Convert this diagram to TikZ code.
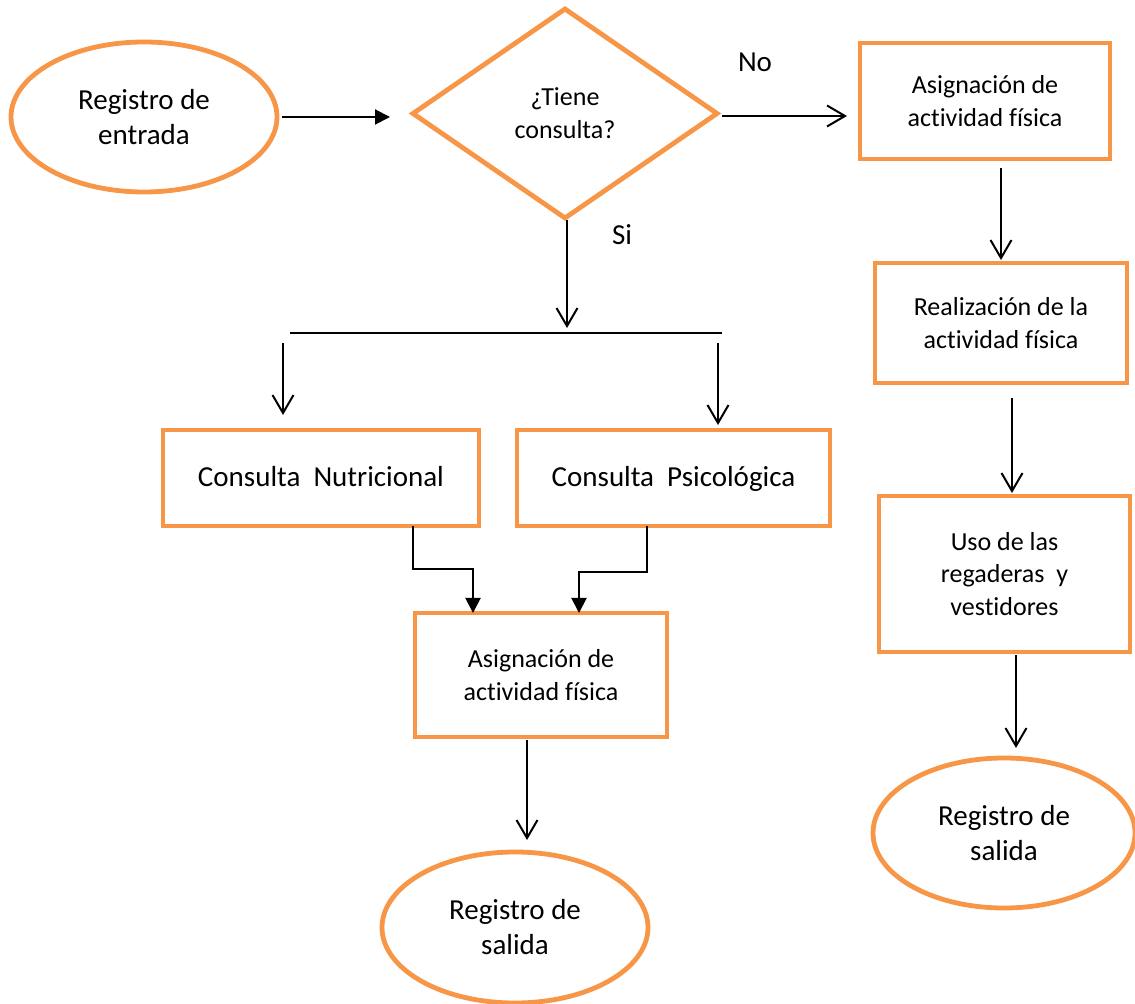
\documentclass[tikz,border=0pt]{standalone}
\usepackage{fontspec}
\setmainfont{Carlito}[RawFeature={-liga;-clig;-calt;-dlig}]
\usetikzlibrary{shapes.geometric,arrows.meta}
\definecolor{boxorange}{RGB}{247,150,70}
\tikzset{
  base/.style={draw=boxorange,line width=2.4pt,inner sep=0pt,outer sep=0pt,align=center,text=black},
  oval/.style={base,ellipse,font=\fontsize{14.5}{17.5}\selectfont},
  stepbox/.style={base,rectangle,font=\fontsize{13}{16.25}\selectfont},
  widebox/.style={base,rectangle,font=\fontsize{14.5}{17.5}\selectfont,text height=12pt,text depth=3pt},
  decision/.style={base,diamond,font=\fontsize{13}{16.5}\selectfont},
  flow/.style={draw=black,line width=1pt},
  openarrow/.style={flow,-{Straight Barb[length=9pt,width=10.5pt]}},
  solidarrow/.style={flow,-{Triangle[length=7.5pt,width=7.5pt]}},
  lbl/.style={font=\fontsize{14.5}{17.5}\selectfont,inner sep=0pt}
}
\begin{document}
\begin{tikzpicture}[x=0.5pt,y=-0.5pt]
\useasboundingbox (0,0) rectangle (1135,1004);

% start and decision
\node[oval,minimum width=133pt,minimum height=75pt] (inreg) at (144,117) {Registro de\\entrada};
\node[decision,minimum width=152pt,minimum height=104.5pt] (dec) at (565,113.5) {¿Tiene\\consulta?};

% branch "No"
\node[stepbox,minimum width=125pt,minimum height=58pt] (asigA) at (985,101) {Asignación de\\actividad física};
\node[stepbox,minimum width=126pt,minimum height=60pt] (real) at (1001,323) {Realización de la\\actividad física};
\node[stepbox,minimum width=125.5pt,minimum height=78pt] (uso) at (1004.5,574) {Uso de las\\regaderas\ \ y\\vestidores};
\node[oval,minimum width=131pt,minimum height=75pt] (outB) at (1004,833) {Registro de\\salida};

% branch "Si"
\node[widebox,minimum width=158pt,minimum height=48pt] (nutri) at (321,478) {Consulta\ \ Nutricional};
\node[widebox,minimum width=156.5pt,minimum height=48pt] (psico) at (673.5,478) {Consulta\ \ Psicológica};
\node[stepbox,minimum width=126pt,minimum height=62pt] (asigB) at (541,675) {Asignación de\\actividad física};
\node[oval,minimum width=133pt,minimum height=75.5pt] (outA) at (515,927.5) {Registro de\\salida};

% branch labels
\node[lbl] (noLbl) at (755,62) {No};
\node[lbl] (siLbl) at (622,235) {Si};

% split bar under the decision
\coordinate (barL) at (290,333);
\coordinate (barR) at (722,333);
\coordinate (dropL) at (283,333);
\coordinate (dropR) at (718,333);
\draw[flow] (barL) -- (barR);

% connectors
\draw[solidarrow,shorten <=2.5pt,shorten >=11.5pt] (inreg.east) -- (inreg.east -| dec.west);
\draw[openarrow,shorten <=2.5pt,shorten >=6.5pt] ([yshift=-1.25pt]dec.east) -- ([yshift=-1.25pt]dec.east -| asigA.west);
\draw[openarrow,shorten <=1pt,shorten >=2.5pt] ([xshift=1pt]dec.south) -- ([xshift=1pt]dec.south |- barL);
\draw[openarrow,shorten >=7.5pt] ([yshift=-5pt]dropL) -- (dropL |- nutri.north);
\draw[openarrow,shorten >=2.5pt] ([yshift=-5pt]dropR) -- (dropR |- psico.north);
\draw[solidarrow] ([xshift=46pt]nutri.south) -- ++(0,-21.5pt) -| ([xshift=-34pt]asigB.north);
\draw[solidarrow] ([xshift=-13.25pt]psico.south) -- ++(0,-23pt) -| ([xshift=19pt]asigB.north);
\draw[openarrow,shorten <=1.5pt,shorten >=6pt] ([xshift=-7pt]asigB.south) -- ([xshift=-7pt]asigB.south |- outA.north);
\draw[openarrow,shorten >=1.5pt] ([yshift=-4.5pt]asigA.south -| real.north) -- (real.north);
\draw[openarrow,shorten >=1.5pt] ([xshift=5.5pt,yshift=-7.5pt]real.south) -- ([xshift=5.5pt]real.south |- uso.north);
\draw[openarrow,shorten >=5pt] ([xshift=5.75pt,yshift=-1.5pt]uso.south) -- ([xshift=5.75pt]uso.south |- outB.north);
\end{tikzpicture}
\end{document}
